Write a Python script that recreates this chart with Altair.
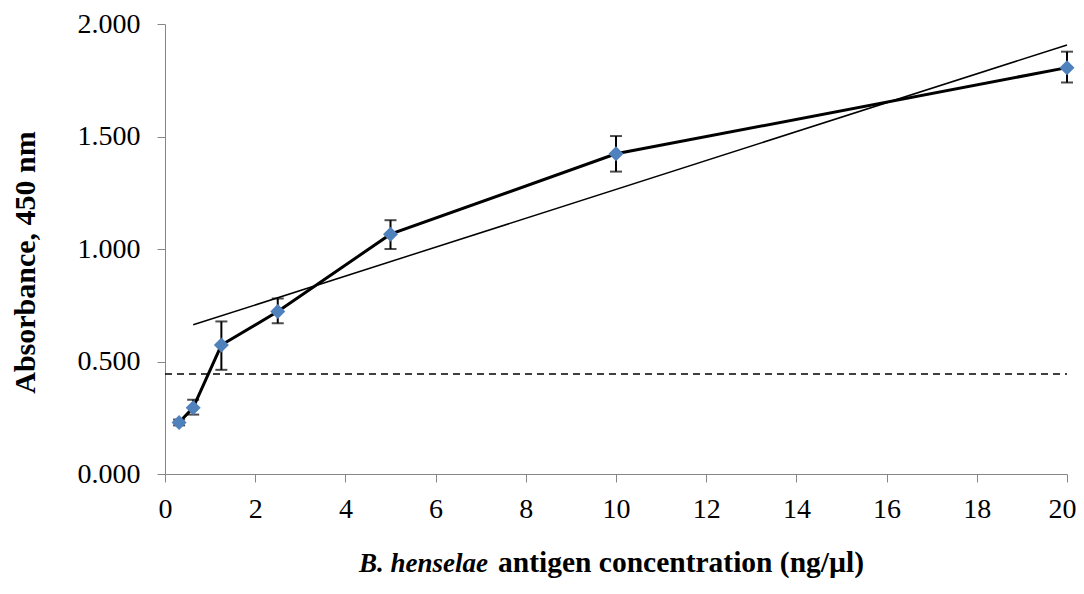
import altair as alt
import pandas as pd

conc = [0.3125, 0.625, 1.25, 2.5, 5, 10, 20]
absorb = [0.229, 0.295, 0.573, 0.722, 1.066, 1.423, 1.806]
err_hi = [0.242, 0.330, 0.678, 0.780, 1.128, 1.502, 1.877]
err_lo = [0.216, 0.264, 0.463, 0.670, 1.000, 1.344, 1.740]

trend_x = [0.625, 20]
trend_y = [0.663, 1.907]

cutoff_x = [0, 20]
cutoff_y = [0.445, 0.445]

x_ticks = [0, 2, 4, 6, 8, 10, 12, 14, 16, 18, 20]
y_ticks = [0, 0.5, 1.0, 1.5, 2.0]

FONT = "Liberation Serif"

df = pd.DataFrame({"conc": conc, "abs": absorb, "hi": err_hi, "lo": err_lo})
trend = pd.DataFrame({"conc": trend_x, "abs": trend_y})
cut = pd.DataFrame({"conc": cutoff_x, "abs": cutoff_y})

xs = alt.Scale(domain=[0, 20], nice=False, zero=False)
ys = alt.Scale(domain=[0, 2], nice=False)

xax = alt.Axis(values=x_ticks, title=None, grid=False, format="d", labelFlush=False,
               labelPadding=13, labelOffset={"expr": "datum.value == 20 ? -5 : 0"})
yax = alt.Axis(values=y_ticks, title="Absorbance, 450 nm", grid=False, format=".3f",
               labelPadding=17,
               titleX=-140, titleY=238, titleAngle=-90, titleBaseline="middle",
               titleAlign="center", titleFontWeight="bold", titleFontSize=30,
               titleFont=FONT, titleColor="black")

base = alt.Chart(df)

errbars = base.mark_rule(color="black", strokeWidth=2).encode(
    x=alt.X("conc:Q", scale=xs, axis=xax),
    y=alt.Y("lo:Q", scale=ys, axis=yax),
    y2="hi:Q",
)
caps_hi = base.mark_tick(color="black", thickness=2, size=12, orient="horizontal").encode(
    x=alt.X("conc:Q", scale=xs), y=alt.Y("hi:Q", scale=ys)
)
caps_lo = base.mark_tick(color="black", thickness=2, size=12, orient="horizontal").encode(
    x=alt.X("conc:Q", scale=xs), y=alt.Y("lo:Q", scale=ys)
)

trend_line = alt.Chart(trend).mark_line(color="black", strokeWidth=1.5).encode(
    x=alt.X("conc:Q", scale=xs), y=alt.Y("abs:Q", scale=ys)
)
cut_line = alt.Chart(cut).mark_line(color="black", strokeWidth=1.5, strokeDash=[7, 5]).encode(
    x=alt.X("conc:Q", scale=xs), y=alt.Y("abs:Q", scale=ys)
)
main_line = base.mark_line(color="black", strokeWidth=3).encode(
    x=alt.X("conc:Q", scale=xs), y=alt.Y("abs:Q", scale=ys)
)
points = base.mark_point(shape="diamond", filled=True, color="#4F81BD", size=225, opacity=1).encode(
    x=alt.X("conc:Q", scale=xs), y=alt.Y("abs:Q", scale=ys)
)

tdf = pd.DataFrame({"a": [1]})
t1 = alt.Chart(tdf).mark_text(text="B. henselae", font=FONT, fontSize=27, fontWeight="bold",
                              fontStyle="italic", align="right", baseline="alphabetic",
                              color="black").encode(x=alt.value(323), y=alt.value(548))
t2 = alt.Chart(tdf).mark_text(text="antigen concentration (ng/µl)", font=FONT, fontSize=29.5,
                              fontWeight="bold", align="left", baseline="alphabetic",
                              color="black").encode(x=alt.value(333), y=alt.value(548))

chart = alt.layer(errbars, caps_hi, caps_lo, trend_line, cut_line, main_line, points, t1, t2).properties(
    width=902, height=450,
    autosize=alt.AutoSizeParams(type="none"),
    padding={"left": 157, "top": 16, "right": 9, "bottom": 106},
).configure_view(stroke=None).configure_axis(
    domainColor="#868686", tickColor="#868686", tickSize=8, domainWidth=1, tickWidth=1,
    labelFont=FONT, labelFontSize=28, labelColor="black",
)

chart.save("out.html", embed_options={"renderer": "svg", "actions": False})
